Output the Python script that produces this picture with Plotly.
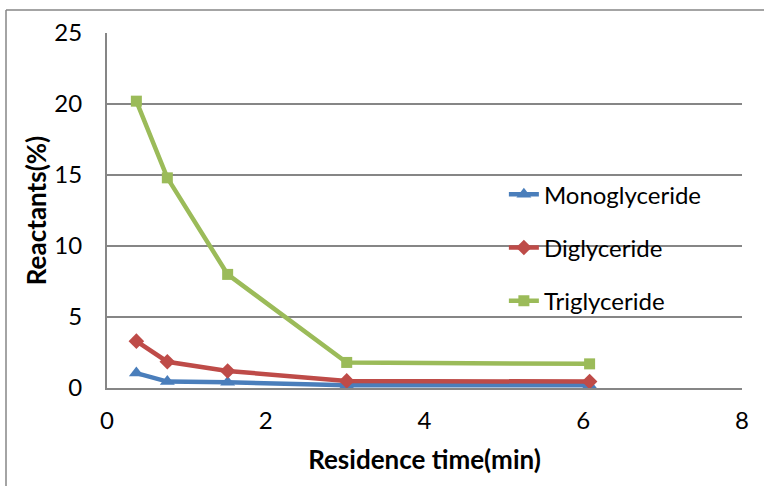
import plotly.graph_objects as go

time_min = [0.37, 0.76, 1.52, 3.02, 6.08]
mono = [1.05, 0.45, 0.4, 0.2, 0.2]
di = [3.3, 1.85, 1.2, 0.5, 0.45]
tri = [20.2, 14.8, 8.0, 1.8, 1.7]

series = [
    ("Monoglyceride", mono, "#4A7EBB", "triangle-up", 13),
    ("Diglyceride", di, "#BE4B48", "diamond", 12),
    ("Triglyceride", tri, "#9BBB59", "square", 11),
]

FONT = "Lato, 'Open Sans', sans-serif"
fig = go.Figure()
for i, (name, vals, col, sym, msize) in enumerate(series):
    fig.add_trace(go.Scatter(
        x=time_min, y=vals, name=name, mode="lines+markers",
        legendgroup=str(i),
        line=dict(color=col, width=4.5),
        marker=dict(symbol=sym, size=msize, color=col),
    ))

fig.update_layout(
    width=764, height=486,
    margin=dict(l=107, r=22, t=33, b=98),
    paper_bgcolor="white", plot_bgcolor="white",
    font=dict(family=FONT, size=24, color="black"),
    showlegend=True,
    legend=dict(x=0.625, y=0.608, xanchor="left", yanchor="top",
                bgcolor="rgba(0,0,0,0)", font=dict(size=24, family=FONT),
                tracegroupgap=19),
    xaxis=dict(range=[0, 8], dtick=2, showgrid=False, zeroline=False,
               showline=True, linecolor="#868686", linewidth=2,
               ticks="", ticklen=0, ticklabelstandoff=10,
               title=dict(text="<b>Residence time(min)</b>", font=dict(size=26), standoff=18)),
    yaxis=dict(range=[0, 25], dtick=5, showgrid=True, gridcolor="#868686", gridwidth=2,
               zeroline=False, showline=True, linecolor="#868686", linewidth=2,
               ticks="", ticklen=0, ticklabelstandoff=18,
               title=dict(text="<b>Reactants(%)</b>", font=dict(size=26), standoff=0)),
    shapes=[
        dict(type="line", xref="paper", yref="paper", x0=-101/635, x1=1.1, y0=378/355, y1=378/355,
             line=dict(color="#868686", width=1.5)),
        dict(type="line", xref="paper", yref="paper", x0=-101/635, x1=-101/635, y0=378/355, y1=-0.4,
             line=dict(color="#868686", width=1.5)),
    ],
)

fig.write_html("out.html")
